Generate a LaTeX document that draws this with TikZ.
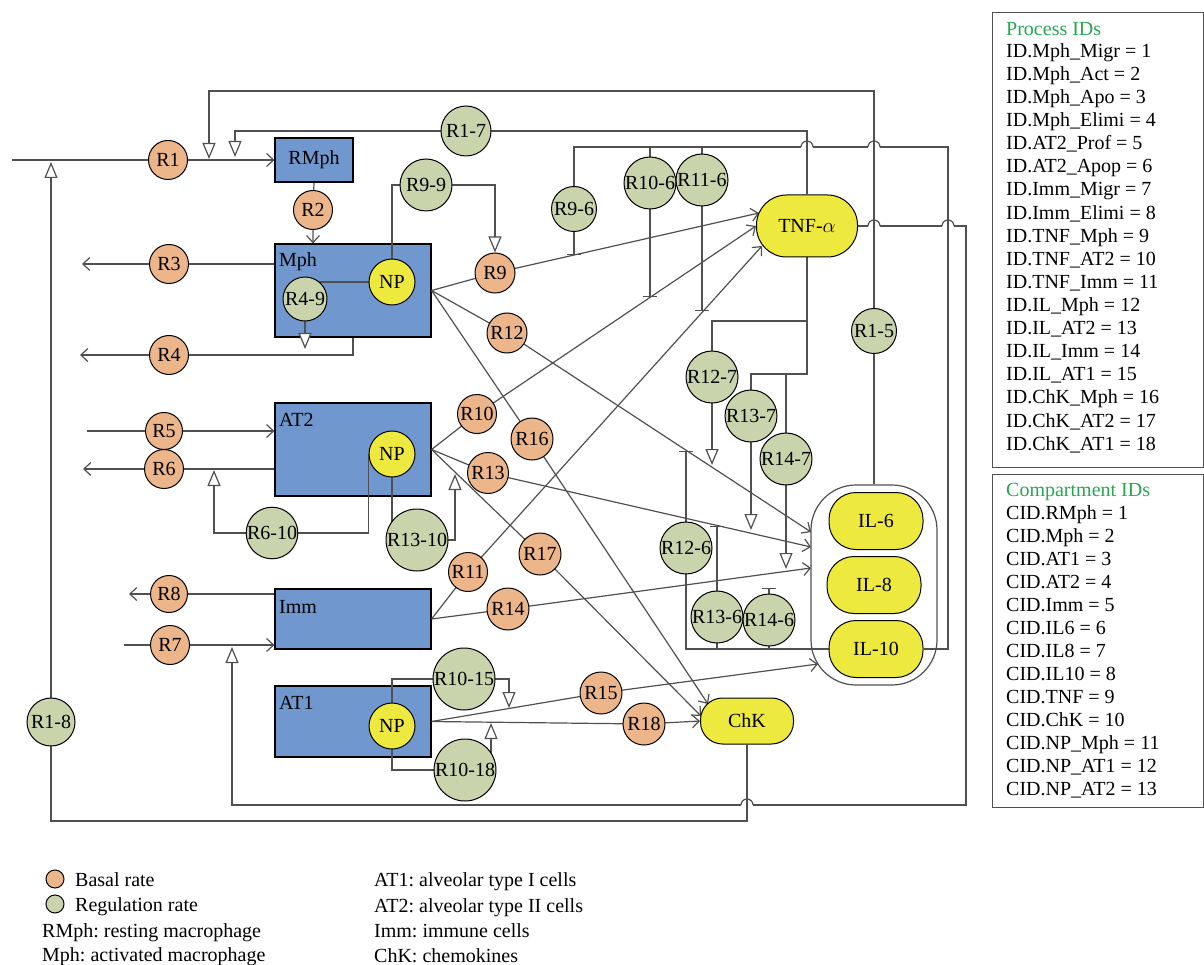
\documentclass[tikz,border=0pt]{standalone}
\usepackage{fontspec}
\setmainfont{Liberation Serif}
\usetikzlibrary{arrows.meta,calc}
\definecolor{lc}{RGB}{80,80,80}
\definecolor{boxblue}{RGB}{112,152,206}
\definecolor{basalc}{RGB}{236,182,138}
\definecolor{regc}{RGB}{201,212,172}
\definecolor{yel}{RGB}{238,233,62}
\definecolor{idgreen}{RGB}{40,165,80}
\pgfdeclarelayer{boxes}
\pgfdeclarelayer{lines}
\pgfsetlayers{boxes,lines,main}
\newcommand\hhop[2]{%
  \fill[white] (#1-6,#2-1.6) rectangle (#1+6,#2+1.6);
  \draw[ln] (#1,#2-3) -- (#1,#2+3);
  \draw[ln] (#1-6,#2) arc[start angle=180,end angle=360,radius=6];
}
\begin{document}
\frenchspacing
\begin{tikzpicture}[x=1pt,y=-1pt,
  every node/.style={font=\fontsize{20}{23}\selectfont, text=black},
  ln/.style={draw=lc, line width=1.2pt},
  flow/.style={ln, -{Straight Barb[length=7pt,width=13pt]}},
  regtip/.style={ln, -{Triangle[length=16pt,width=13pt,fill=white]}},
  inhib/.style={ln, -{Bar[width=14pt]}},
  comp/.style={draw=black, line width=1.2pt, fill=boxblue, inner sep=0pt},
  basal/.style={circle, draw=black, line width=1pt, fill=basalc, inner sep=0pt, minimum size=39pt},
  regn/.style={circle, draw=black, line width=1pt, fill=regc, inner sep=0pt, minimum size=52pt},
  np/.style={circle, draw=black, line width=1pt, fill=yel, inner sep=0pt, minimum size=46pt},
  cyto/.style={draw=black, line width=1pt, fill=yel, inner sep=0pt},
  lbl/.style={anchor=base west, inner sep=0pt},
  idbox/.style={draw=lc, line width=1.2pt, anchor=north west, inner sep=0pt, minimum width=211pt},
]
\useasboundingbox (0,0) rectangle (1204,965);

% ---------- compartments ----------
\begin{pgfonlayer}{boxes}
\node[comp, minimum width=78pt, minimum height=44pt] (RMph) at (314,160) {RMph};
\node[comp, minimum width=156pt, minimum height=93pt] (Mph) at (353,290.5) {};
\node[comp, minimum width=156pt, minimum height=93pt] (AT2) at (353,449.5) {};
\node[comp, minimum width=156pt, minimum height=60pt] (Imm) at (353,619) {};
\node[comp, minimum width=156pt, minimum height=71pt] (AT1) at (353,721.5) {};
\end{pgfonlayer}
\node[lbl] (MphL) at (279,267) {Mph};
\node[lbl] (AT2L) at (279,426) {AT2};
\node[lbl] (ImmL) at (279,613) {Imm};
\node[lbl] (AT1L) at (279,709) {AT1};

\node[np] (NPm) at (392,282) {NP};
\node[np] (NPa2) at (392,454) {NP};
\node[np] (NPa1) at (392,726) {NP};

% ---------- cytokines ----------
\node[cyto, minimum width=101pt, minimum height=62pt, rounded corners=30pt] (TNF) at (807,226) {TNF-$\alpha$};
\node[draw=lc, line width=1.2pt, minimum width=126pt, minimum height=200pt, rounded corners=45pt] (ilgrp) at (874,585) {};
\node[cyto, minimum width=94pt, minimum height=57pt, rounded corners=27pt] (IL6) at (876,521) {IL-6};
\node[cyto, minimum width=94pt, minimum height=57pt, rounded corners=27pt] (IL8) at (874,585) {IL-8};
\node[cyto, minimum width=94pt, minimum height=57pt, rounded corners=27pt] (IL10) at (876,649) {IL-10};
\node[cyto, minimum width=93pt, minimum height=46pt, rounded corners=22pt] (ChK) at (747,721) {ChK};

% ---------- basal rates ----------
\node[basal] (R1) at (168,160) {R1};
\node[basal] (R2) at (313,210) {R2};
\node[basal] (R3) at (169,264) {R3};
\node[basal] (R4) at (169,355) {R4};
\node[basal, minimum size=37pt] (R5) at (164,431) {R5};
\node[basal] (R6) at (164,469) {R6};
\node[basal] (R7) at (170,645) {R7};
\node[basal, minimum size=37pt] (R8) at (169,594) {R8};
\node[basal, minimum size=40pt] (R9) at (495,273) {R9};
\node[basal] (R10) at (477,414) {R10};
\node[basal] (R11) at (468,572) {R11};
\node[basal, minimum size=40pt] (R12) at (507,333) {R12};
\node[basal, minimum size=41pt] (R13) at (488,473) {R13};
\node[basal, minimum size=42pt] (R14) at (508,609) {R14};
\node[basal, minimum size=42pt] (R15) at (601,693) {R15};
\node[basal, minimum size=42pt] (R16) at (532,439) {R16};
\node[basal, minimum size=42pt] (R17) at (540,554) {R17};
\node[basal, minimum size=42pt] (R18) at (644,724) {R18};

% ---------- regulation rates ----------
\node[regn, minimum size=45pt] (Rr15) at (874,331) {R1-5};
\node[regn, minimum size=50pt] (Rr17) at (466,131) {R1-7};
\node[regn, minimum size=48pt] (Rr18) at (51,722) {R1-8};
\node[regn, minimum size=44pt] (Rr49) at (305,299) {R4-9};
\node[regn] (Rr99) at (426,185) {R9-9};
\node[regn, minimum size=45pt] (Rr96) at (574,209) {R9-6};
\node[regn] (Rr106) at (650,183) {R10-6};
\node[regn] (Rr116) at (702,180) {R11-6};
\node[regn] (Rr127) at (712,377) {R12-7};
\node[regn] (Rr137) at (751,416) {R13-7};
\node[regn] (Rr147) at (786,459) {R14-7};
\node[regn] (Rr126) at (686,548) {R12-6};
\node[regn] (Rr136) at (717,617) {R13-6};
\node[regn] (Rr146) at (769,620) {R14-6};
\node[regn, minimum size=50pt] (Rr610) at (272,533) {R6-10};
\node[regn, minimum size=62pt] (Rr1310) at (417,540) {R13-10};
\node[regn, minimum size=62pt] (Rr1015) at (464,679) {R10-15};
\node[regn, minimum size=62pt] (Rr1018) at (465,770) {R10-18};

% ---------- free ends ----------
\coordinate (in1) at (12,160);
\coordinate (out3) at (82,264);
\coordinate (out4) at (80,355);
\coordinate (in5) at (87,431);
\coordinate (out6) at (83,469);
\coordinate (in7) at (124,645);
\coordinate (out8) at (129,594);
\coordinate (a12) at (811,532);
\coordinate (a13) at (811,547);
\coordinate (a14) at (811,568);
\coordinate (a15) at (818,664);
\coordinate (a16) at (708,704);
\coordinate (a17) at (701,716);
\coordinate (top1) at (209,91);
\coordinate (tip1) at (209,159);
\coordinate (tip2) at (235,157);
\coordinate (bot1) at (51,821);
\coordinate (tip3) at (51,162);
\coordinate (tip49) at (305,349);
\coordinate (tip610) at (214,470);
\coordinate (tip1310) at (455,474);
\coordinate (tip1015) at (509,708);
\coordinate (tip1018) at (491,723);
\coordinate (tr1) at (966,805);
\coordinate (tip7) at (232,647);
\coordinate (ilr) at (948,147);
\coordinate (t96) at (574,255);
\coordinate (t106) at (650,297);
\coordinate (t116) at (702,311);
\coordinate (ct0) at (807,321);
\coordinate (ct1) at (807,374);
\coordinate (tip127) at (712,465);
\coordinate (tip137) at (751,530);
\coordinate (tip147) at (786,569);
\coordinate (t126) at (686,451);
\coordinate (t136) at (717,526);
\coordinate (t146) at (769,588);

% ---------- connectors ----------
\begin{pgfonlayer}{lines}
\draw[flow] (in1) -- (R1.center) -- (RMph.west);
\draw[flow] (RMph.south) -- (R2.center) -- (R2 |- Mph.north);
\draw[flow] (R3 -| Mph.west) -- (R3.center) -- (out3);
\draw[flow] (Mph.south) |- (R4.center) -- (out4);
\draw[flow] (in5) -- (R5.center) -- (R5 -| AT2.west);
\draw[flow] (R6 -| AT2.west) -- (R6.center) -- (out6);
\draw[flow] (in7) -- (R7.center) -- (R7 -| Imm.west);
\draw[flow] (R8 -| Imm.west) -- (R8.center) -- (out8);

\draw[flow] (Mph.east) -- (R9.center) -- ([xshift=3pt,yshift=13pt]TNF.west);
\draw[flow] (AT2.east) -- (R10.center) -- (TNF.west);
\draw[flow] (Imm.east) -- (R11.center) -- ([xshift=6pt,yshift=-20pt]TNF.west);
\draw[flow] (Mph.east) -- (R12.center) -- (a12);
\draw[flow] (AT2.east) -- (R13.center) -- (a13);
\draw[flow] (Imm.east) -- (R14.center) -- (a14);
\draw[flow] (AT1.east) -- (R15.center) -- (a15);
\draw[flow] (Mph.east) -- (R16.center) -- (a16);
\draw[flow] (AT2.east) -- (R17.center) -- (a17);
\draw[flow] (AT1.east) -- (R18.center) -- (ChK.west);

% feedback to R1
\draw[ln] (ilgrp.north) -- (Rr15.center);
\draw[regtip] (Rr15.center) |- (top1) -- (tip1);
\draw[ln] (TNF.north) |- (Rr17.center);
\draw[regtip] (Rr17.center) -| (tip2);
\draw[ln] (ChK.south) |- (bot1) -- (Rr18.center);
\draw[regtip] (Rr18.center) -- (tip3);

% NP regulations
\draw[ln] (NPm.center) |- (Rr99.center);
\draw[regtip] (Rr99.center) -| (R9.north);
\draw[ln] (NPm.center) -- (NPm.center -| Rr49.center);
\draw[regtip] (Rr49.center) -- (tip49);
\draw[ln] (NPa2.west) |- (Rr610.center);
\draw[regtip] (Rr610.center) -| (tip610);
\draw[ln] (NPa2.center) -- (NPa2.center |- Rr1310.center);
\draw[regtip] (Rr1310.center) -| (tip1310);
\draw[ln] (NPa1.center) |- (Rr1015.center);
\draw[regtip] (Rr1015.center) -| (tip1015);
\draw[ln] (NPa1.center) |- (Rr1018.center);
\draw[regtip] (Rr1018.center) -| (tip1018);

% TNF -> R7
\draw[regtip] (TNF.east) -| (tr1) -| (tip7);

% IL-10 inhibits TNF production
\draw[ln] (IL10.east) -| (ilr) -| (Rr96.center);
\draw[ln] (Rr106.center |- ilr) -- (Rr106.center);
\draw[ln] (Rr116.center |- ilr) -- (Rr116.center);
\draw[inhib] (Rr96.center) -- (t96);
\draw[inhib] (Rr106.center) -- (t106);
\draw[inhib] (Rr116.center) -- (t116);

% TNF promotes IL production
\draw[ln] (TNF.south) -- (ct1) -| (Rr137.center);
\draw[ln] (ct0) -| (Rr127.center);
\draw[ln] (Rr147.center |- ct1) -- (Rr147.center);
\draw[regtip] (Rr127.center) -- (tip127);
\draw[regtip] (Rr137.center) -- (tip137);
\draw[regtip] (Rr147.center) -- (tip147);

% IL-10 inhibits IL production
\draw[ln] (IL10.west) -| (Rr126.center);
\draw[ln] (Rr136.center) -- (Rr136.center |- IL10.west);
\draw[ln] (Rr146.center) -- (Rr146.center |- IL10.west);
\draw[inhib] (Rr126.center) -- (t126);
\draw[inhib] (Rr136.center) -- (t136);
\draw[inhib] (Rr146.center) -- (t146);

% line hops at crossings
\hhop{807}{147}
\hhop{874}{147}
\hhop{874}{226}
\hhop{948}{226}
\hhop{747}{805}
\end{pgfonlayer}

% ---------- ID boxes ----------
\node[idbox, minimum height=455pt] (pbox) at (992,12) {};
\node[lbl, text=idgreen] (ptitle) at (1006,36) {Process IDs};
\foreach \t [count=\i] in {ID.Mph\_Migr = 1, ID.Mph\_Act = 2, ID.Mph\_Apo = 3, ID.Mph\_Elimi = 4,
  ID.AT2\_Prof = 5, ID.AT2\_Apop = 6, ID.Imm\_Migr = 7, ID.Imm\_Elimi = 8, ID.TNF\_Mph = 9,
  ID.TNF\_AT2 = 10, ID.TNF\_Imm = 11, ID.IL\_Mph = 12, ID.IL\_AT2 = 13, ID.IL\_Imm = 14,
  ID.IL\_AT1 = 15, ID.ChK\_Mph = 16, ID.ChK\_AT2 = 17, ID.ChK\_AT1 = 18}
  \node[lbl] (p\i) at (1006,{57.4+23.1*(\i-1)}) {\t};

\node[idbox, minimum height=333pt] (cbox) at (992,474) {};
\node[lbl, text=idgreen] (ctitle) at (1006,496) {Compartment IDs};
\foreach \t [count=\i] in {CID.RMph = 1, CID.Mph = 2, CID.AT1 = 3, CID.AT2 = 4, CID.Imm = 5,
  CID.IL6 = 6, CID.IL8 = 7, CID.IL10 = 8, CID.TNF = 9, CID.ChK = 10, CID.NP\_Mph = 11,
  CID.NP\_AT1 = 12, CID.NP\_AT2 = 13}
  \node[lbl] (c\i) at (1006,{519+23*(\i-1)}) {\t};

% ---------- legend ----------
\node[circle, draw=black, line width=1pt, fill=basalc, minimum size=18pt, inner sep=0pt] (lg1) at (55,879) {};
\node[lbl] (lg1t) at (75,886) {Basal rate};
\node[circle, draw=black, line width=1pt, fill=regc, minimum size=18pt, inner sep=0pt] (lg2) at (55,904) {};
\node[lbl] (lg2t) at (75,911) {Regulation rate};
\node[lbl] (lg3) at (42,937) {RMph: resting macrophage};
\node[lbl] (lg4) at (42,961) {Mph: activated macrophage};
\node[lbl] (lg5) at (374,886) {AT1: alveolar type I cells};
\node[lbl] (lg6) at (374,912) {AT2: alveolar type II cells};
\node[lbl] (lg7) at (374,937) {Imm: immune cells};
\node[lbl] (lg8) at (374,962) {ChK: chemokines};
\end{tikzpicture}
\end{document}
